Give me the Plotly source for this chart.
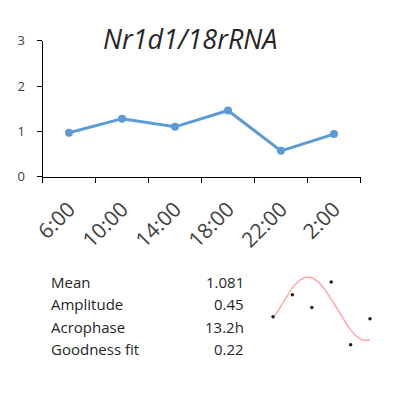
import numpy as np
import plotly.graph_objects as go

W, H = 413, 395

times = ["6:00", "10:00", "14:00", "18:00", "22:00", "2:00"]
hours = [6, 10, 14, 18, 22, 26]
values = [0.97, 1.28, 1.10, 1.46, 0.57, 0.94]

stat_names = ["Mean", "Amplitude", "Acrophase", "Goodness fit"]
stat_values = ["1.081", "0.45", "13.2h", "0.22"]

mesor = 1.081
amplitude = 0.45
acrophase = 13.2

title_text = "Nr1d1/18rRNA"

def px_x(a, b):
    return [a / W, b / W]

def px_y(top, bottom):
    return [1 - bottom / H, 1 - top / H]

fig = go.Figure()

fig.add_trace(go.Scatter(
    x=times, y=values, mode="lines+markers",
    line=dict(color="#5B9BD5", width=3),
    marker=dict(color="#5B9BD5", size=8),
    xaxis="x", yaxis="y", showlegend=False, hoverinfo="skip",
))

# inset: cosinor fit curve from the stated parameters plus the data points
th = np.linspace(hours[0], hours[-1], 200)
fit = mesor + amplitude * np.cos(2 * np.pi * (th - acrophase) / 24)
fig.add_trace(go.Scatter(
    x=th, y=fit, mode="lines",
    line=dict(color="rgba(255,120,120,0.65)", width=1.5),
    xaxis="x2", yaxis="y2", showlegend=False, hoverinfo="skip",
))
fig.add_trace(go.Scatter(
    x=hours, y=values, mode="markers",
    marker=dict(color="#222222", size=3.5),
    xaxis="x2", yaxis="y2", showlegend=False, hoverinfo="skip",
))

font_main = "Open Sans, sans-serif"

fig.update_layout(
    width=W, height=H,
    margin=dict(l=0, r=0, t=0, b=0),
    paper_bgcolor="white", plot_bgcolor="white",
    font=dict(family=font_main, color="#404040"),
    xaxis=dict(
        domain=px_x(42.5, 360.5), type="category", range=[-0.5, len(times) - 0.5],
        tickson="boundaries", ticks="outside", ticklen=5, tickwidth=1,
        tickcolor="#000000", showline=True, linecolor="#000000", linewidth=1,
        showgrid=False, zeroline=False, tickangle=-45, ticklabelstandoff=11,
        tickfont=dict(size=21, color="#404040", family=font_main),
        anchor="y", automargin=False,
    ),
    yaxis=dict(
        domain=px_y(40.7, 176.7), range=[0, 3], dtick=1,
        ticks="outside", ticklen=5, tickwidth=1, tickcolor="#000000",
        showline=True, linecolor="#000000", linewidth=1,
        showgrid=False, zeroline=False, ticklabelstandoff=9,
        tickfont=dict(size=13, color="#404040", family=font_main),
        anchor="x", automargin=False,
    ),
    xaxis2=dict(domain=px_x(262, 380), range=[3.73, 28.06], visible=False, anchor="y2"),
    yaxis2=dict(domain=px_y(270, 352), range=[0.468, 1.632], visible=False, anchor="x2"),
)

annotations = [dict(
    text=f"<i>{title_text}</i>", x=190 / W, y=1 - 39 / H, xref="paper", yref="paper",
    showarrow=False, xanchor="center", yanchor="middle",
    font=dict(size=27, color="#262626", family=font_main),
)]

row_y = [282, 304, 327, 349]
for name, val, yy in zip(stat_names, stat_values, row_y):
    annotations.append(dict(
        text=name, x=49 / W, y=1 - yy / H, xref="paper", yref="paper",
        showarrow=False, xanchor="left", yanchor="middle",
        font=dict(size=15, color="#262626", family=font_main),
    ))
    annotations.append(dict(
        text=val, x=246 / W, y=1 - yy / H, xref="paper", yref="paper",
        showarrow=False, xanchor="right", yanchor="middle",
        font=dict(size=15, color="#262626", family=font_main),
    ))

fig.update_layout(annotations=annotations)

fig.write_html("out.html")
